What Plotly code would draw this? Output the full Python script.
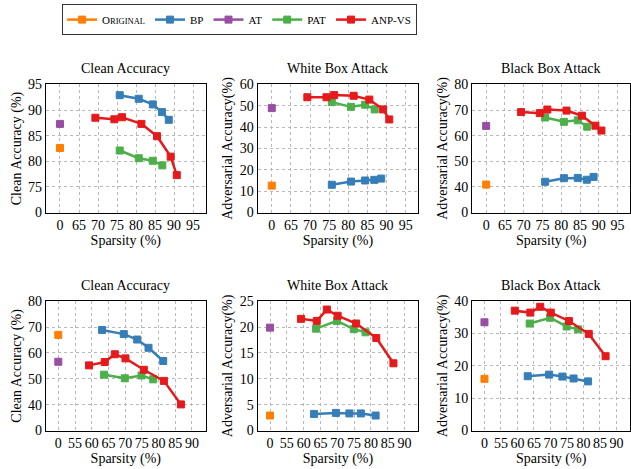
import plotly.graph_objects as go

# ---------------- data ----------------
# top row
top_bp_x = [75.7, 80.7, 84.4, 86.8, 88.6]
top_bp_clean = [92.9, 92.2, 91.1, 89.6, 88.1]
top_bp_white = [13.0, 14.5, 15.0, 15.3, 15.9]
top_bp_black = [42.0, 43.4, 43.5, 42.8, 43.9]
top_pat_x = [75.7, 80.7, 84.4, 86.9]
top_pat_clean = [82.1, 80.6, 80.1, 79.2]
top_pat_white = [51.7, 49.5, 50.5, 48.3]
top_pat_black = [67.1, 65.4, 66.0, 63.5]
top_anp_x = [69.3, 74.3, 76.3, 81.4, 85.5, 89.1, 90.7]
top_anp_clean = [88.5, 88.2, 88.6, 87.3, 84.9, 80.9, 77.3]
top_anp_white = [54.0, 54.0, 55.0, 54.7, 52.9, 48.3, 43.6]
top_anp_black = [69.2, 68.8, 70.2, 69.8, 67.8, 63.9, 62.0]
top_orig = {"clean": 82.6, "white": 12.6, "black": 40.9}
top_at = {"clean": 87.3, "white": 48.9, "black": 63.8}

# bottom row
bot_bp_x = [63.1, 69.6, 73.6, 77.0, 81.4]
bot_bp_clean = [68.9, 67.3, 65.2, 62.0, 56.9]
bot_bp_white = [3.2, 3.4, 3.3, 3.3, 2.9]
bot_bp_black = [16.8, 17.3, 16.7, 16.1, 15.2]
bot_pat_x = [63.7, 69.9, 74.9, 78.4]
bot_pat_clean = [51.6, 50.2, 51.3, 49.8]
bot_pat_white = [19.7, 21.2, 19.6, 19.0]
bot_pat_black = [33.1, 34.9, 32.2, 31.3]
bot_anp_x = [59.2, 63.9, 66.9, 70.1, 75.6, 81.6, 86.7]
bot_anp_clean = [55.2, 56.5, 59.5, 57.9, 53.5, 49.2, 40.1]
bot_anp_white = [21.6, 21.2, 23.4, 22.2, 20.7, 17.9, 13.0]
bot_anp_black = [37.1, 36.5, 38.3, 36.5, 33.9, 29.9, 23.0]
bot_orig = {"clean": 67.0, "white": 2.9, "black": 16.0}
bot_at = {"clean": 56.6, "white": 19.9, "black": 33.5}

titles = ["Clean Accuracy", "White Box Attack", "Black Box Attack"]
ytitles = ["Clean Accuracy (%)", "Adversarial Accuracy(%)", "Adversarial Accuracy(%)"]
top_xticks = [65, 70, 75, 80, 85, 90, 95]
bot_xticks = [55, 60, 65, 70, 75, 80, 85, 90]

COL = {"orig": "#ff7f00", "bp": "#377eb8", "at": "#984ea3",
       "pat": "#4daf4a", "anp": "#e41a1c"}
NAMES = {"orig": "O<span style='font-size:8.5px'>RIGINAL</span>", "bp": "BP",
         "at": "AT", "pat": "PAT", "anp": "ANP-VS"}
FONT = "Liberation Serif"

W, H = 631, 469
xdom_px = [(46, 206), (258, 419), (473, 631)]
ydom_px = [(80, 212.3), (304, 437.5)]

fig = go.Figure()

rows = [
    dict(x0=60, xr=[56.3, 98.3], xt=top_xticks,
         bp_x=top_bp_x, pat_x=top_pat_x, anp_x=top_anp_x,
         bp=[top_bp_clean, top_bp_white, top_bp_black],
         pat=[top_pat_clean, top_pat_white, top_pat_black],
         anp=[top_anp_clean, top_anp_white, top_anp_black],
         orig=top_orig, at=top_at,
         yax=[(70, 95, 5), (0, 60, 10), (30, 80, 10)]),
    dict(x0=50, xr=[46.3, 94.1], xt=bot_xticks,
         bp_x=bot_bp_x, pat_x=bot_pat_x, anp_x=bot_anp_x,
         bp=[bot_bp_clean, bot_bp_white, bot_bp_black],
         pat=[bot_pat_clean, bot_pat_white, bot_pat_black],
         anp=[bot_anp_clean, bot_anp_white, bot_anp_black],
         orig=bot_orig, at=bot_at,
         yax=[(30, 80, 10), (0, 25, 5), (0, 40, 10)]),
]
keys = ["clean", "white", "black"]

annotations = []
idx = 0
for r, row in enumerate(rows):
    for c in range(3):
        idx += 1
        xa = "x" if idx == 1 else f"x{idx}"
        ya = "y" if idx == 1 else f"y{idx}"
        first = idx == 1
        k = keys[c]

        def add(name, xs, ys, mode="lines+markers"):
            fig.add_trace(go.Scatter(
                x=xs, y=ys, xaxis=xa, yaxis=ya, mode=mode,
                name=NAMES[name], legendgroup=name, showlegend=first,
                line=dict(color=COL[name], width=2.5),
                marker=dict(symbol="square", size=7, color=COL[name],
                            line=dict(color=COL[name], width=1)),
                cliponaxis=False))

        add("orig", [row["x0"]], [row["orig"][k]])
        add("bp", row["bp_x"], row["bp"][c])
        add("at", [row["x0"]], [row["at"][k]])
        add("pat", row["pat_x"], row["pat"][c])
        add("anp", row["anp_x"], row["anp"][c])

        x0p, x1p = xdom_px[c]
        y0p, y1p = ydom_px[r]
        ylo, yhi, dy = row["yax"][c]
        yvals = list(range(ylo, yhi + 1, dy))
        ytext = ["0"] + [str(v) for v in yvals[1:]]
        axis_common = dict(showline=True, mirror=True, linecolor="black",
                           linewidth=1.3, showgrid=True, gridcolor="#b8b8b8",
                           griddash="3px,3px", gridwidth=0.8, zeroline=False,
                           ticks="", tickfont=dict(family=FONT, size=14, color="black"))
        fig.layout[("xaxis" if idx == 1 else f"xaxis{idx}")] = dict(
            domain=[x0p / W, x1p / W], anchor=ya, range=row["xr"],
            tickmode="array", tickvals=[row["x0"]] + row["xt"],
            ticktext=["0"] + [str(t) for t in row["xt"]],
            title=dict(text="Sparsity (%)", font=dict(family=FONT, size=14, color="black"),
                       standoff=0),
            **axis_common)
        fig.layout[("yaxis" if idx == 1 else f"yaxis{idx}")] = dict(
            domain=[1 - y1p / H, 1 - y0p / H], anchor=xa, range=[ylo, yhi],
            tickmode="array", tickvals=yvals, ticktext=ytext,
            title=dict(text=ytitles[c], font=dict(family=FONT, size=14, color="black"),
                       standoff=3),
            **axis_common)
        annotations.append(dict(
            text=titles[c], x=(x0p + x1p) / 2 / W, y=1 - (y0p - 16) / H,
            xref="paper", yref="paper", showarrow=False, xanchor="center",
            yanchor="middle", font=dict(family=FONT, size=14, color="black")))

fig.update_layout(
    width=W, height=H, margin=dict(l=0, r=0, t=0, b=0),
    paper_bgcolor="white", plot_bgcolor="white",
    font=dict(family=FONT, size=14, color="black"),
    annotations=annotations,
    legend=dict(orientation="h", x=240 / W, xanchor="center", y=1 + 3 / H,
                yanchor="top", bordercolor="#333333", borderwidth=1,
                font=dict(family=FONT, size=11, color="black"),
                itemwidth=30, tracegroupgap=0, bgcolor="white"),
)

fig.write_html("out.html", config={"displayModeBar": False},
               post_script="document.body.style.margin='0';document.body.style.overflow='hidden';")
